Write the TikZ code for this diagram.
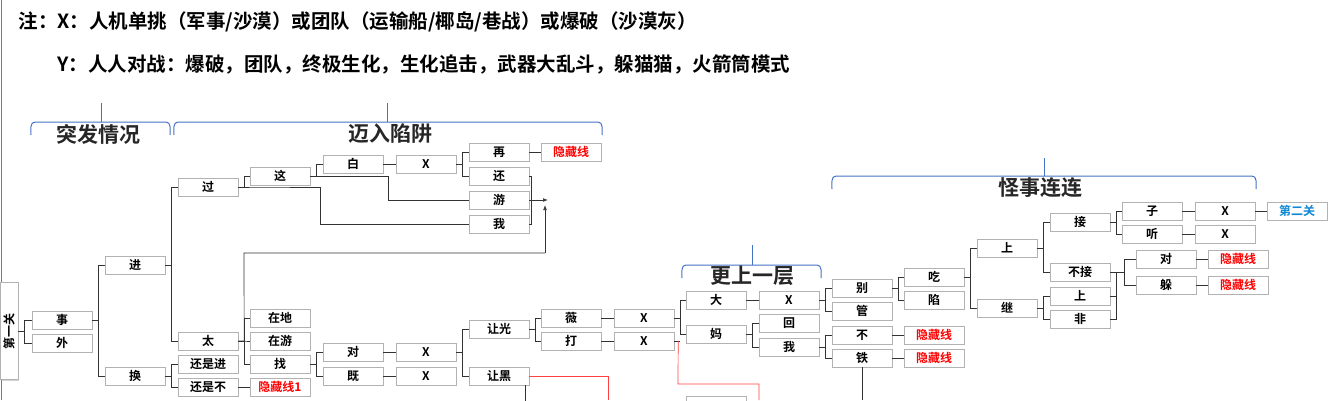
\documentclass[tikz,border=0pt]{standalone}
\usepackage{fontspec}
\setmainfont{Noto Sans CJK SC}[BoldFont={Noto Sans CJK SC Bold}]
\usetikzlibrary{shadows,arrows.meta}
\definecolor{brblue}{RGB}{68,114,196}
\tikzset{
 bx/.style={draw=gray!60,fill=white,drop shadow={shadow xshift=1pt,shadow yshift=-1pt,opacity=0.35},minimum width=60pt,minimum height=18pt,inner sep=0pt,font=\fontsize{12}{12}\selectfont\bfseries},
 hid/.style={bx,text=red},
 ln/.style={draw=black!80,line width=0.7pt},
 rl/.style={draw=red!75,line width=0.7pt},
 brc/.style={draw=brblue,line width=1pt},
 hd/.style={font=\fontsize{21}{21}\selectfont\bfseries,text=black!85},
 nt/.style={anchor=west,font=\fontsize{19.5}{19.5}\selectfont\bfseries},
}
\newcommand\brk[2]{\foreach \c in {#2} {\draw[ln] (#1.east) -- ++(6,0) |- (\c.west);}}
\newcommand\bracepath[3]{%
 \draw[brc] (#1,#3+13) to[out=90,in=180] (#1+4,#3) -- (#2-4,#3) to[out=0,in=90] (#2,#3+13);}
\begin{document}
\begin{tikzpicture}[x=1pt,y=-1pt]
\useasboundingbox (0,0) rectangle (1330,400);
\draw[rl] (1,0) -- (1,400);
\node[nt] (n1) at (15,22) {注：X：人机单挑（军事/沙漠）或团队（运输船/椰岛/巷战）或爆破（沙漠灰）};
\node[nt] (n2) at (54,64) {Y：人人对战：爆破，团队，终极生化，生化追击，武器大乱斗，躲猫猫，火箭筒模式};
% braces
\bracepath{31}{170}{122}
\draw[brc] (101,122) -- (101,103);
\bracepath{174}{602}{122}
\draw[brc] (387,122) -- (387,103);
\bracepath{682}{821}{265}
\draw[brc] (752,265) -- (752,245);
\bracepath{832}{1256}{176}
\draw[brc] (1044,176) -- (1044,158);
\node[hd] (h1) at (98,134) {突发情况};
\node[hd] (h2) at (390,134) {迈入陷阱};
\node[hd] (h3) at (752,276) {更上一层};
\node[hd] (h4) at (1040,188) {怪事连连};
% nodes
\node[bx,minimum width=97pt,minimum height=18pt,rotate=90] (g1) at (9,331) {第一关};
\node[bx] (a1) at (62,320) {事};
\node[bx] (a2) at (62,343) {外};
\node[bx] (b1) at (135,265) {进};
\node[bx] (b2) at (135,376) {换};
\node[bx] (c1) at (208,187) {过};
\node[bx] (c2) at (208,341) {太};
\node[bx] (c3) at (208,364) {还是进};
\node[bx] (c4) at (208,387) {还是不};
\node[bx] (d1) at (280,176) {这};
\node[bx] (d2) at (280,318) {在地};
\node[bx] (d3) at (280,341) {在游};
\node[bx] (d4) at (280,364) {找};
\node[hid] (d5) at (280,387) {隐藏线1};
\node[bx] (e1) at (353,164) {白};
\node[bx] (e2) at (353,352) {对};
\node[bx] (e3) at (353,376) {既};
\node[bx] (f1) at (426,164) {X};
\node[bx] (f2) at (426,352) {X};
\node[bx] (f3) at (426,376) {X};
\node[bx] (g2) at (499,152) {再};
\node[bx] (g3) at (499,176) {还};
\node[bx] (g4) at (499,200) {游};
\node[bx] (g5) at (499,224) {我};
\node[bx] (g6) at (499,329) {让光};
\node[bx] (g7) at (499,376) {让黑};
\node[hid] (h5) at (571,152) {隐藏线};
\node[bx] (h6) at (571,318) {薇};
\node[bx] (h7) at (571,341) {打};
\node[bx] (i1) at (644,318) {X};
\node[bx] (i2) at (644,341) {X};
\node[bx] (j1) at (716,300) {大};
\node[bx] (j2) at (716,334) {妈};
\node[bx] (j3) at (716,405) {};
\node[bx] (k1) at (789,300) {X};
\node[bx] (k2) at (789,323) {回};
\node[bx] (k3) at (789,347) {我};
\node[bx] (l1) at (862,288) {别};
\node[bx] (l2) at (862,311) {管};
\node[bx] (l3) at (862,335) {不};
\node[bx] (l4) at (862,358) {铁};
\node[bx] (m1) at (934,277) {吃};
\node[bx] (m2) at (934,300) {陷};
\node[hid] (m3) at (934,335) {隐藏线};
\node[hid] (m4) at (934,358) {隐藏线};
\node[bx] (o1) at (1007,248) {上};
\node[bx] (o2) at (1007,308) {继};
\node[bx] (p1) at (1080,222) {接};
\node[bx] (p2) at (1080,272) {不接};
\node[bx] (p3) at (1080,296) {上};
\node[bx] (p4) at (1080,319) {非};
\node[bx] (q1) at (1152,211) {子};
\node[bx] (q2) at (1152,234) {听};
\node[bx] (q3) at (1166,259) {对};
\node[bx] (q4) at (1166,285) {躲};
\node[bx] (r1) at (1225,211) {X};
\node[bx] (r2) at (1225,234) {X};
\node[hid] (r3) at (1238,259) {隐藏线};
\node[hid] (r4) at (1238,285) {隐藏线};
\node[bx,text=cyan!70!blue] (s1) at (1297,211) {第二关};
% connectors
\draw[ln] (18,331) -- (24,331) |- (a1.west);
\draw[ln] (24,331) |- (a2.west);
\draw[ln] (a1.east) -- ++(6,0) coordinate (af);
\draw[ln] (af) |- (b1.west); \draw[ln] (af) |- (b2.west);
\brk{b1}{c1,c2}
\brk{b2}{c3,c4}
\brk{c1}{d1}
\draw[ln] (c1.east) -- (260,187) -- (320,187) -- (320,224) -- (g5.west);
\brk{c2}{d2,d3,d4}
\draw[ln] (c2.east) -- ++(6,0) -- (244,253) -- (545,253) coordinate (up1);
\draw[ln,-{Latex[length=5pt]}] (up1) -- (545,205);
\brk{d1}{e1}
\draw[ln] (d1.east) -- (388,176) -- (388,200) -- (g4.west);
\draw[ln] (d5.west) -- (c4.east);
\brk{d4}{e2,e3}
\draw[ln] (e1) -- (f1);
\draw[ln] (e2) -- (f2);
\draw[ln] (e3) -- (f3);
\brk{f1}{g2,g3}
\brk{f2}{g6,g7}
\draw[ln] (g2) -- (h5);
\draw[ln] (g3.east) -- (531,176) -- (531,224) -- (g5.east);
\draw[ln,-{Latex[length=5pt]}] (g4.east) -- (548,200);
\brk{g6}{h6,h7}
\draw[ln] (h6) -- (i1); \draw[ln] (h7) -- (i2);
\draw[ln] (i1.east) -- ++(6,0) |- (j1.west);
\draw[ln] (i1.east) -- ++(6,0) |- (j2.west);
\draw[ln] (i2.east) -- ++(6,0);
\draw[ln] (g7.south east) ++(-4,0) -- ++(0,30);
\draw[rl] (g7.east) -- (608,376) -- (608,400);
\draw[rl] (i2.east) ++(4,0) -- (678,384) -- (759,384) -- (759,400);
\draw[ln] (j1) -- (k1);
\brk{j2}{k2,k3}
\brk{k1}{l1,l2}
\brk{k3}{l3,l4}
\draw[ln] (l3) -- (m3); \draw[ln] (l4) -- (m4);
\draw[ln] (l4.south) -- (862,400);
\brk{l1}{m1,m2}
\brk{m1}{o1,o2}
\brk{o1}{p1,p2}
\brk{o2}{p3,p4}
\brk{p1}{q1,q2}
\draw[ln] (p2.east) -- (1124,272) |- (q3.west);
\draw[ln] (p2.east) -- (1124,272) |- (q4.west);
\draw[ln] (p3.east) -- (1116,296) -- (1116,272);
\draw[ln] (p4.east) -- (1116,319) -- (1116,296);
\draw[ln] (q1) -- (r1); \draw[ln] (q2) -- (r2);
\draw[ln] (q3) -- (r3); \draw[ln] (q4) -- (r4);
\draw[ln] (r1) -- (s1);
\end{tikzpicture}
\end{document}
